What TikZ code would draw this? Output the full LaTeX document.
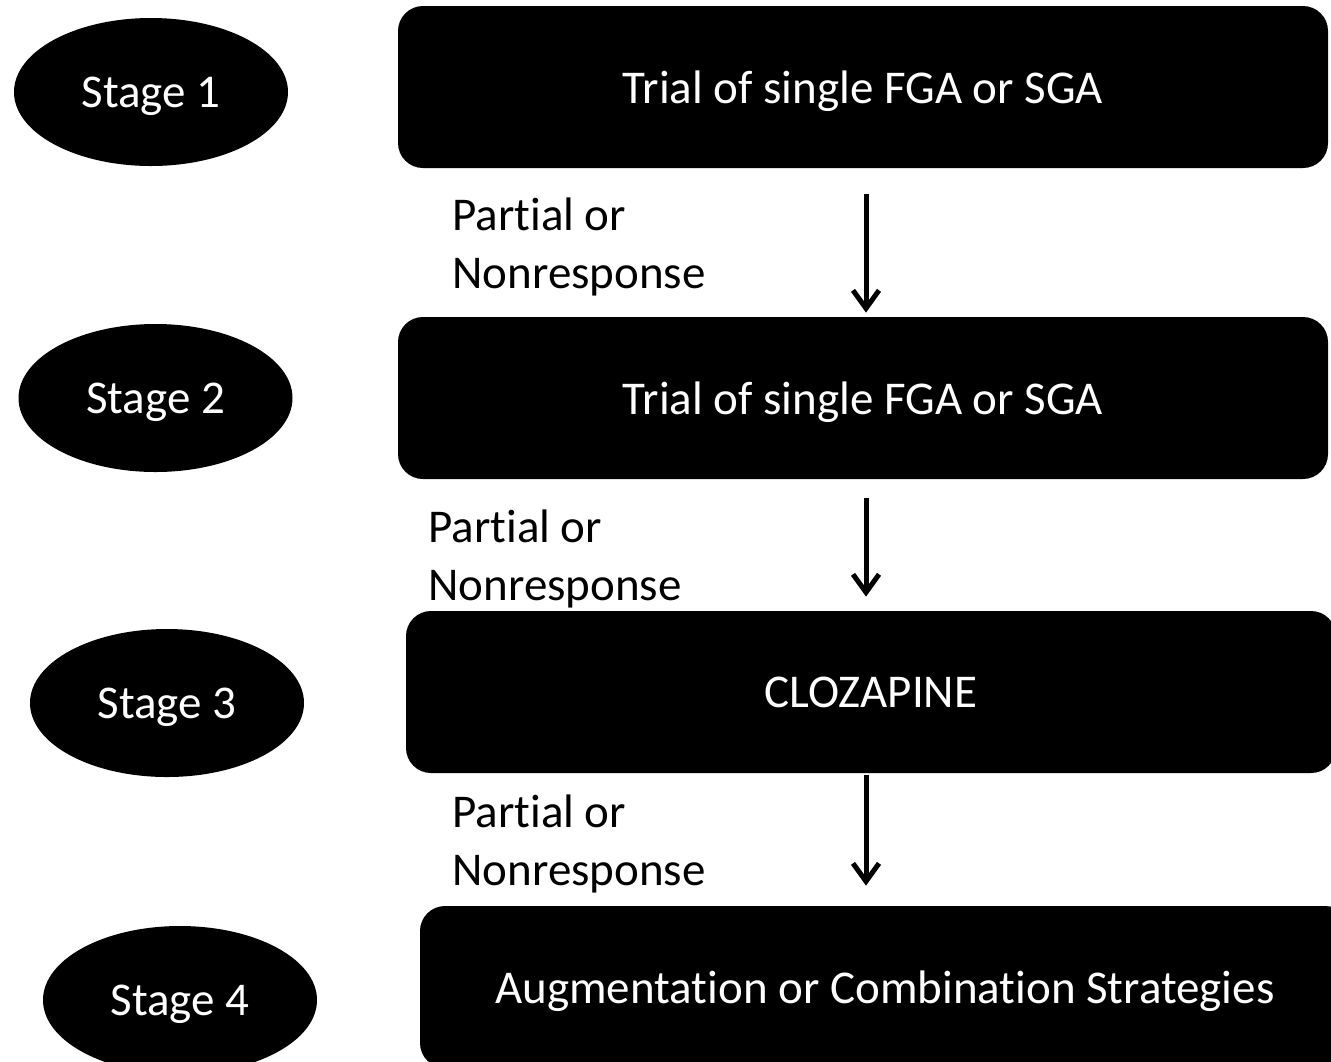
\documentclass[tikz,border=0pt]{standalone}
\usepackage{fontspec}
\setmainfont{Carlito}[Ligatures=NoCommon]
\usetikzlibrary{shapes.geometric,arrows.meta}
\begin{document}
\begin{tikzpicture}[x=0.5pt, y=-0.5pt, font=\fontsize{23.5pt}{28.75pt}\selectfont,
  stage node/.style={ellipse,fill=black,text=white,minimum width=137pt,minimum height=74pt,inner sep=0pt,text depth=0pt},
  step node/.style={rectangle,rounded corners=12.5pt,fill=black,text=white,minimum width=465pt,minimum height=81pt,inner sep=0pt,text depth=0pt},
  note node/.style={align=left,inner sep=0pt,anchor=base west},
  flow/.style={line width=2.5pt,-{Straight Barb[length=9pt,width=13pt]}}]
\useasboundingbox (0,0) rectangle (1331,1061);
\node [stage node](s1) at (151,92) {Stage 1};
\node [stage node](s2) at (155.5,398) {Stage 2};
\node [stage node](s3) at (167,703) {Stage 3};
\node [stage node](s4) at (180,1000) {Stage 4};
\node [step node](b1) at (863,87) {Trial of single FGA or SGA};
\node [step node](b2) at (863,398) {Trial of single FGA or SGA};
\node [step node](b3) at (871,692) {CLOZAPINE};
\node [step node](b4) at (885,987) {Augmentation or Combination Strategies};
\node [note node](n1) at (452,288) {Partial or\\Nonresponse};
\node [note node](n2) at (428,600) {Partial or\\Nonresponse};
\node [note node](n3) at (452,885) {Partial or\\Nonresponse};
\coordinate (ax) at (866,0);
\draw [flow, shorten <=13pt, shorten >=2pt] (b1.south -| ax) -- (b2.north -| ax);
\draw [flow, shorten <=9.5pt, shorten >=7pt] (b2.south -| ax) -- (b3.north -| ax);
\draw [flow, shorten <=1pt, shorten >=10pt] (b3.south -| ax) -- (b4.north -| ax);
\end{tikzpicture}
\end{document}
